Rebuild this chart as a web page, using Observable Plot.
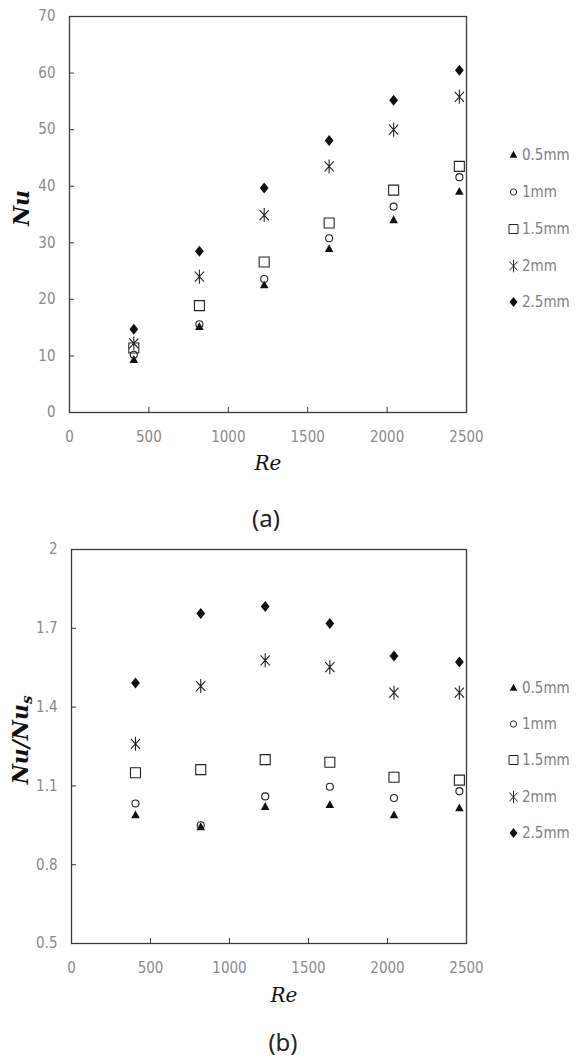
<!DOCTYPE html>
<html><head><meta charset="utf-8">
<script src="https://cdn.jsdelivr.net/npm/d3@7"></script>
<script src="https://cdn.jsdelivr.net/npm/@observablehq/plot@0.6"></script>
<style>
body{margin:0;background:#fff;}
#root{position:relative;width:580px;height:1064px;overflow:hidden;background:#fff;}
.panel{position:absolute;left:0;}
.ylab{position:absolute;font-family:"DejaVu Serif",serif;font-style:italic;font-weight:bold;font-size:22px;color:#111;white-space:nowrap;transform:translate(-50%,-50%) rotate(-90deg);line-height:1;}
.ylab sub{font-size:15px;vertical-align:-4px;}
.xlab{position:absolute;font-family:"DejaVu Serif",serif;font-style:italic;font-size:20px;color:#111;transform:translate(-50%,-50%);line-height:1;white-space:nowrap;}
.cap{position:absolute;font-family:"Noto Sans","Open Sans",sans-serif;font-size:24px;color:#222;transform:translate(-50%,-50%);line-height:1;}
.leg{position:absolute;left:506px;height:18px;display:flex;align-items:center;font-family:"Liberation Sans Narrow","DejaVu Sans Condensed","Noto Sans",sans-serif;font-size:15px;color:#7f7f7f;white-space:nowrap;}
.leg svg{display:block;margin-right:1px;}
</style></head><body><div id="root"></div>
<script>
// ---- data ----
const re = [405, 818, 1226, 1635, 2041, 2455];
const sizes = ["0.5mm", "1mm", "1.5mm", "2mm", "2.5mm"];
const nu05 = [9.3, 15.1, 22.5, 28.9, 34.0, 39.0];
const nu10 = [10.2, 15.6, 23.6, 30.8, 36.4, 41.6];
const nu15 = [11.4, 18.9, 26.6, 33.5, 39.3, 43.5];
const nu20 = [12.2, 24.0, 34.9, 43.5, 50.0, 55.8];
const nu25 = [14.7, 28.5, 39.7, 48.1, 55.2, 60.5];
const rat05 = [0.988, 0.943, 1.020, 1.027, 0.988, 1.015];
const rat10 = [1.033, 0.950, 1.060, 1.097, 1.054, 1.080];
const rat15 = [1.150, 1.162, 1.200, 1.190, 1.133, 1.122];
const rat20 = [1.260, 1.480, 1.578, 1.552, 1.455, 1.455];
const rat25 = [1.492, 1.756, 1.783, 1.718, 1.595, 1.572];
const xTicks = [0, 500, 1000, 1500, 2000, 2500];
const yTicksA = [0, 10, 20, 30, 40, 50, 60, 70];
const yTicksB = [0.5, 0.8, 1.1, 1.4, 1.7, 2];

// ---- symbols ----
const symTri = {draw(c){c.moveTo(0,-4.8);c.lineTo(4.3,3);c.lineTo(-4.3,3);c.closePath();}};
const symCirc = {draw(c){c.moveTo(3.5,0);c.arc(0,0,3.5,0,2*Math.PI);}};
const symSq = {draw(c){c.rect(-5,-5,10,10);}};
const symAst = {draw(c){c.moveTo(0,-7);c.lineTo(0,7);c.moveTo(-4.6,-5);c.lineTo(4.6,5);c.moveTo(4.6,-5);c.lineTo(-4.6,5);}};
const symDia = {draw(c){c.moveTo(0,-5.5);c.lineTo(4.4,0);c.lineTo(0,5.5);c.lineTo(-4.4,0);c.closePath();}};
const SYMS = [symTri, symCirc, symSq, symAst, symDia];
const STY = [
  {fill:"#111", stroke:"none"},
  {fill:"none", stroke:"#222", strokeWidth:1.1},
  {fill:"none", stroke:"#222", strokeWidth:1.1},
  {fill:"none", stroke:"#222", strokeWidth:1.1},
  {fill:"#111", stroke:"none"}
];
const tickFont = '"Liberation Sans Narrow","DejaVu Sans Condensed","Noto Sans",sans-serif';

function chart(series, yTicks, yDomain, m) {
  const marks = [
    Plot.axisX(xTicks, {anchor:"bottom", tickSize:-5, tickPadding:24, tickFormat:d=>String(d),
      stroke:"#3a3a3a", fill:"#8a8a8a", fontSize:15, fontFamily:tickFont, label:null}),
    Plot.axisY(yTicks, {anchor:"left", tickSize:-5, tickPadding:19, tickFormat:d=>String(d),
      stroke:"#3a3a3a", fill:"#8a8a8a", fontSize:15, fontFamily:tickFont, label:null}),
    Plot.frame({stroke:"#3a3a3a", strokeWidth:1.3})
  ];
  series.forEach((vals, i) => {
    const rows = re.map((x, j) => ({re:x, v:vals[j], size:sizes[i]}));
    marks.push(Plot.dot(rows, {x:"re", y:"v", symbol:SYMS[i], r:4, ...STY[i]}));
  });
  return Plot.plot({
    width:580, height:475,
    marginTop:m.top, marginBottom:m.bottom, marginLeft:m.left, marginRight:m.right,
    x:{domain:[0,2500], label:null},
    y:{domain:yDomain, label:null},
    marks
  });
}

const root = document.getElementById("root");
function place(el, top){ el.classList.add("panel"); el.style.top = top+"px"; root.appendChild(el); }

const A = chart([nu05,nu10,nu15,nu20,nu25], yTicksA, [0,70], {top:16,bottom:63,left:69,right:114});
place(A, 0);
const B = chart([rat05,rat10,rat15,rat20,rat25], yTicksB, [0.5,2], {top:19,bottom:62,left:71,right:114});
place(B, 530);

function div(cls, html, x, y){ const d=document.createElement("div"); d.className=cls; d.innerHTML=html; d.style.left=x+"px"; d.style.top=y+"px"; root.appendChild(d); return d; }
div("ylab", "Nu", 21, 208);
div("xlab", "Re", 268, 463);
div("cap", "(a)", 266, 518);
div("ylab", "Nu/Nu<sub>s</sub>", 22, 740);
div("xlab", "Re", 284, 995);
div("cap", "(b)", 283, 1042);

function legend(rowsY){
  sizes.forEach((s, i) => {
    const d = document.createElement("div");
    d.className = "leg";
    d.style.top = (rowsY[i]-9) + "px";
    const p = d3.path(); SYMS[i].draw(p);
    const st = STY[i];
    const svg = `<svg width="15" height="18"><path transform="translate(7.5,9) scale(0.9)" d="${p.toString()}" fill="${st.fill}" stroke="${st.stroke}" stroke-width="${st.strokeWidth||0}"/></svg>`;
    d.innerHTML = svg + `<span>${s}</span>`;
    root.appendChild(d);
  });
}
legend([155, 192, 229, 266, 302]);
legend([688, 724, 760, 797, 833]);
</script></body></html>
